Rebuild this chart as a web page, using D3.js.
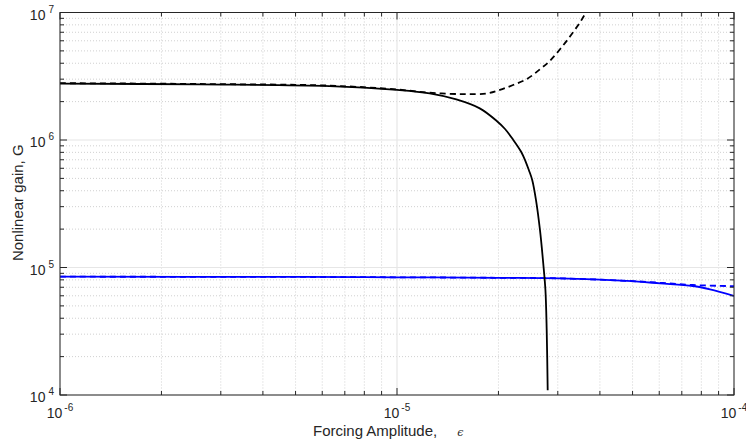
<!DOCTYPE html>
<html>
<head>
<meta charset="utf-8">
<script src="https://cdn.jsdelivr.net/npm/d3@7"></script>
<style>
  body { margin: 0; background: #fff; }
  svg text { font-family: "Liberation Sans", Arial, sans-serif; fill: #262626; }
</style>
</head>
<body>
<div id="chart"></div>
<script>
// forcing amplitude (epsilon) and nonlinear gain G
const blackSolidEps = [1e-6, 2.6e-6, 6.3e-6, 1.0e-5, 1.25e-5, 1.5e-5, 1.76e-5, 1.977e-5, 2.092e-5, 2.209e-5, 2.333e-5, 2.405e-5, 2.464e-5, 2.519e-5, 2.585e-5, 2.656e-5, 2.716e-5, 2.757e-5, 2.781e-5, 2.80e-5];
const blackSolidG   = [2.77e6, 2.73e6, 2.65e6, 2.47e6, 2.32e6, 2.08e6, 1.77e6, 1.41e6, 1.22e6, 1.009e6, 8.12e5, 6.84e5, 5.77e5, 4.86e5, 3.38e5, 1.97e5, 1.08e5, 6.66e4, 3.24e4, 1.09e4];

const blackDashEps = [1e-6, 2.6e-6, 6.3e-6, 1.0e-5, 1.25e-5, 1.57e-5, 1.85e-5, 2.02e-5, 2.21e-5, 2.43e-5, 2.66e-5, 2.84e-5, 3.05e-5, 3.26e-5, 3.49e-5, 3.64e-5, 3.8e-5];
const blackDashG   = [2.79e6, 2.75e6, 2.67e6, 2.49e6, 2.35e6, 2.29e6, 2.32e6, 2.47e6, 2.70e6, 3.01e6, 3.60e6, 4.17e6, 5.17e6, 6.48e6, 8.35e6, 1.0e7, 1.17e7];

const blueSolidEps = [1e-6, 5.15e-6, 1.0e-5, 2.0e-5, 3.05e-5, 4.81e-5, 6.03e-5, 7.55e-5, 8.49e-5, 1e-4];
const blueSolidG   = [8.47e4, 8.43e4, 8.38e4, 8.3e4, 8.22e4, 7.84e4, 7.51e4, 7.16e4, 6.74e4, 5.98e4];

const blueDashEps = [1e-6, 5.15e-6, 1.0e-5, 2.0e-5, 3.05e-5, 4.81e-5, 6.03e-5, 7.55e-5, 9.5e-5, 1e-4];
const blueDashG   = [8.47e4, 8.43e4, 8.38e4, 8.3e4, 8.22e4, 7.86e4, 7.60e4, 7.29e4, 7.16e4, 7.14e4];

const xMajor = [1e-6, 1e-5, 1e-4];
const xExp   = ['-6', '-5', '-4'];
const yMajor = [1e4, 1e5, 1e6, 1e7];
const yExp   = ['4', '5', '6', '7'];

const width = 746, height = 442;
const margin = { top: 12.5, right: 12, bottom: 47, left: 60 };
const w = width - margin.left - margin.right;
const h = height - margin.top - margin.bottom;

const svg = d3.select('#chart').append('svg')
  .attr('width', width).attr('height', height);
const g = svg.append('g').attr('transform', `translate(${margin.left},${margin.top})`);

const x = d3.scaleLog().domain([1e-6, 1e-4]).range([0, w]);
const y = d3.scaleLog().domain([1e4, 1e7]).range([h, 0]);

// minor positions 2..9 inside each decade
const minors = (majors) => {
  const out = [];
  for (let i = 0; i < majors.length - 1; i++)
    for (let k = 2; k <= 9; k++) out.push(majors[i] * k);
  return out;
};
const xMinor = minors(xMajor);
const yMinor = minors(yMajor);

// grid
g.selectAll('.xminor').data(xMinor).enter().append('line')
  .attr('x1', d => x(d)).attr('x2', d => x(d)).attr('y1', 0).attr('y2', h)
  .attr('stroke', '#d0d0d0').attr('stroke-width', 1).attr('stroke-dasharray', '1,2');
g.selectAll('.yminor').data(yMinor).enter().append('line')
  .attr('y1', d => y(d)).attr('y2', d => y(d)).attr('x1', 0).attr('x2', w)
  .attr('stroke', '#d0d0d0').attr('stroke-width', 1).attr('stroke-dasharray', '1,2');
g.selectAll('.xmajor').data(xMajor).enter().append('line')
  .attr('x1', d => x(d)).attr('x2', d => x(d)).attr('y1', 0).attr('y2', h)
  .attr('stroke', '#e6e6e6').attr('stroke-width', 1.2);
g.selectAll('.ymajor').data(yMajor).enter().append('line')
  .attr('y1', d => y(d)).attr('y2', d => y(d)).attr('x1', 0).attr('x2', w)
  .attr('stroke', '#e6e6e6').attr('stroke-width', 1.2);

// curves
g.append('clipPath').attr('id', 'clip').append('rect').attr('width', w).attr('height', h);
const plot = g.append('g').attr('clip-path', 'url(#clip)');

const series = [
  { eps: blueSolidEps, G: blueSolidG, color: '#0000ff', dash: null },
  { eps: blueDashEps, G: blueDashG, color: '#0000ff', dash: '6,4' },
  { eps: blackSolidEps, G: blackSolidG, color: '#000', dash: null },
  { eps: blackDashEps, G: blackDashG, color: '#000', dash: '6,4' }
];
const line = d3.line().x(d => x(d[0])).y(d => y(d[1])).curve(d3.curveCatmullRom.alpha(0.5));
series.forEach(s => {
  plot.append('path')
    .datum(s.eps.map((e, i) => [e, s.G[i]]))
    .attr('fill', 'none')
    .attr('stroke', s.color)
    .attr('stroke-width', 1.8)
    .attr('stroke-dasharray', s.dash)
    .attr('d', line);
});

// box + inward ticks (MATLAB style)
const axisColor = '#262626';
g.append('rect').attr('width', w).attr('height', h)
  .attr('fill', 'none').attr('stroke', axisColor).attr('stroke-width', 1);

const tickX = (vals, len) => {
  vals.forEach(v => {
    g.append('line').attr('x1', x(v)).attr('x2', x(v)).attr('y1', h).attr('y2', h - len).attr('stroke', axisColor);
    g.append('line').attr('x1', x(v)).attr('x2', x(v)).attr('y1', 0).attr('y2', len).attr('stroke', axisColor);
  });
};
const tickY = (vals, len) => {
  vals.forEach(v => {
    g.append('line').attr('y1', y(v)).attr('y2', y(v)).attr('x1', 0).attr('x2', len).attr('stroke', axisColor);
    g.append('line').attr('y1', y(v)).attr('y2', y(v)).attr('x1', w).attr('x2', w - len).attr('stroke', axisColor);
  });
};
tickX(xMajor, 7); tickX(xMinor, 4);
tickY(yMajor, 7); tickY(yMinor, 4);

// tick labels
xMajor.forEach((v, i) => {
  const t = g.append('text').attr('x', x(v)).attr('y', h + 23)
    .attr('text-anchor', 'middle').style('font-size', '14px');
  t.append('tspan').text('10');
  t.append('tspan').attr('dx', 2).attr('dy', -7).style('font-size', '10px').text(xExp[i]);
});
yMajor.forEach((v, i) => {
  const t = g.append('text').attr('x', -6).attr('y', y(v) + 7)
    .attr('text-anchor', 'end').style('font-size', '14px');
  t.append('tspan').text('10');
  t.append('tspan').attr('dx', 3).attr('dy', -7).style('font-size', '10px').text(yExp[i]);
});

// axis titles
const xt = svg.append('text').attr('x', 313).attr('y', 436).style('font-size', '15px');
xt.append('tspan').text('Forcing Amplitude,');
xt.append('tspan').attr('dx', 20)
  .style('font-family', '"DejaVu Serif", serif').style('font-style', 'italic').style('font-size', '11px')
  .text('\u03f5');

svg.append('text')
  .attr('transform', `translate(23,${margin.top + h / 2 - 1}) rotate(-90)`)
  .attr('text-anchor', 'middle').style('font-size', '15px')
  .text('Nonlinear gain, G');
</script>
</body>
</html>
